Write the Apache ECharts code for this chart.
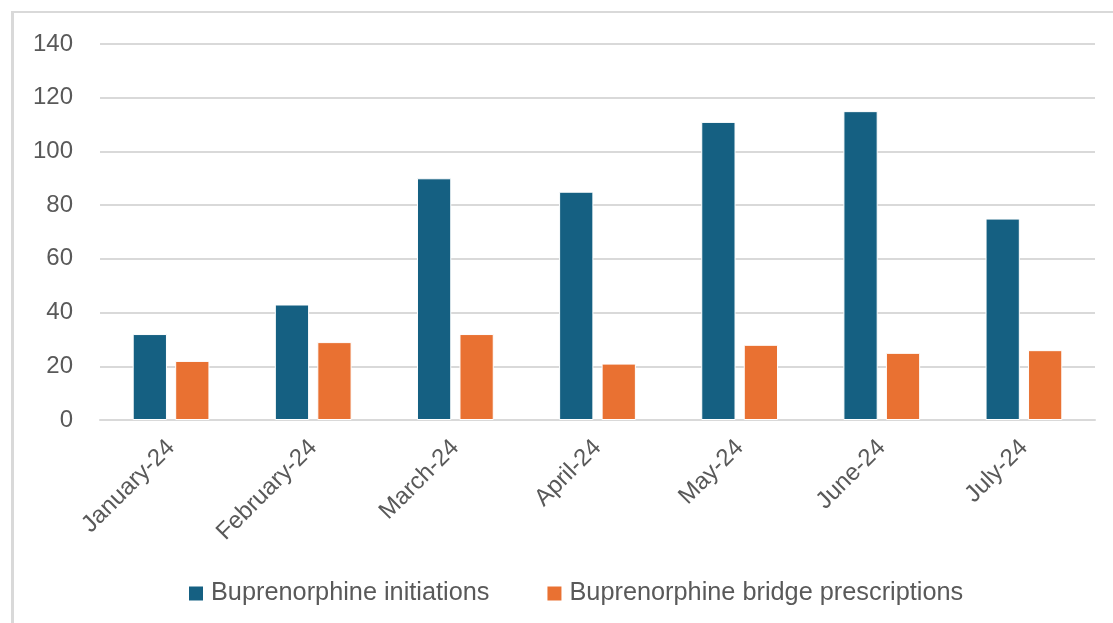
<!DOCTYPE html>
<html>
<head>
<meta charset="utf-8">
<script src="https://cdn.jsdelivr.net/npm/echarts@6/dist/echarts.min.js"></script>
<style>
html,body{margin:0;padding:0;background:#fff;overflow:hidden;width:1113px;height:623px;}
#frame{position:absolute;left:11px;top:11px;width:1200px;height:700px;border-left:3px solid #d9d9d9;border-top:2px solid #d9d9d9;box-sizing:border-box;}
#chart{position:absolute;left:0;top:0;width:1113px;height:623px;}
</style>
</head>
<body>
<div id="frame"></div>
<div id="chart"></div>
<script>
const categories = ['January-24','February-24','March-24','April-24','May-24','June-24','July-24'];
const initiations = [32, 43, 90, 85, 111, 115, 75];
const bridgePrescriptions = [22, 29, 32, 21, 28, 25, 26];
const seriesNames = ['Buprenorphine initiations','Buprenorphine bridge prescriptions'];
const yTicks = {min: 0, max: 140, interval: 20};

const FONT = 'Liberation Sans';
const chart = echarts.init(document.getElementById('chart'), null, {renderer: 'canvas'});
chart.setOption({
  backgroundColor: 'transparent',
  animation: false,
  grid: {left: 100, right: 18, top: 44, bottom: 203, containLabel: false},
  legend: {
    top: 576,
    left: 182,
    itemWidth: 16,
    itemHeight: 16,
    itemGap: 56,
    icon: 'rect',
    textStyle: {color: '#595959', fontSize: 25.3, fontFamily: FONT, padding: [0, 0, 0, 2]},
    data: seriesNames
  },
  xAxis: {
    type: 'category',
    data: categories,
    axisLine: {lineStyle: {color: '#d9d9d9', width: 2}},
    axisTick: {show: false},
    axisLabel: {rotate: 45, color: '#595959', fontSize: 24, fontFamily: FONT, margin: 24, interval: 0}
  },
  yAxis: {
    type: 'value',
    min: yTicks.min, max: yTicks.max, interval: yTicks.interval,
    axisLine: {show: false},
    axisTick: {show: false},
    splitLine: {lineStyle: {color: '#d9d9d9', width: 2}},
    axisLabel: {color: '#595959', fontSize: 24, fontFamily: FONT, margin: 27}
  },
  series: [
    {name: seriesNames[0], type: 'bar', data: initiations, barGap: '24%', barCategoryGap: '46%',
     itemStyle: {color: '#156082', borderColor: '#ffffff', borderWidth: 1}},
    {name: seriesNames[1], type: 'bar', data: bridgePrescriptions,
     itemStyle: {color: '#E97132', borderColor: '#ffffff', borderWidth: 1}}
  ]
});
</script>
</body>
</html>
